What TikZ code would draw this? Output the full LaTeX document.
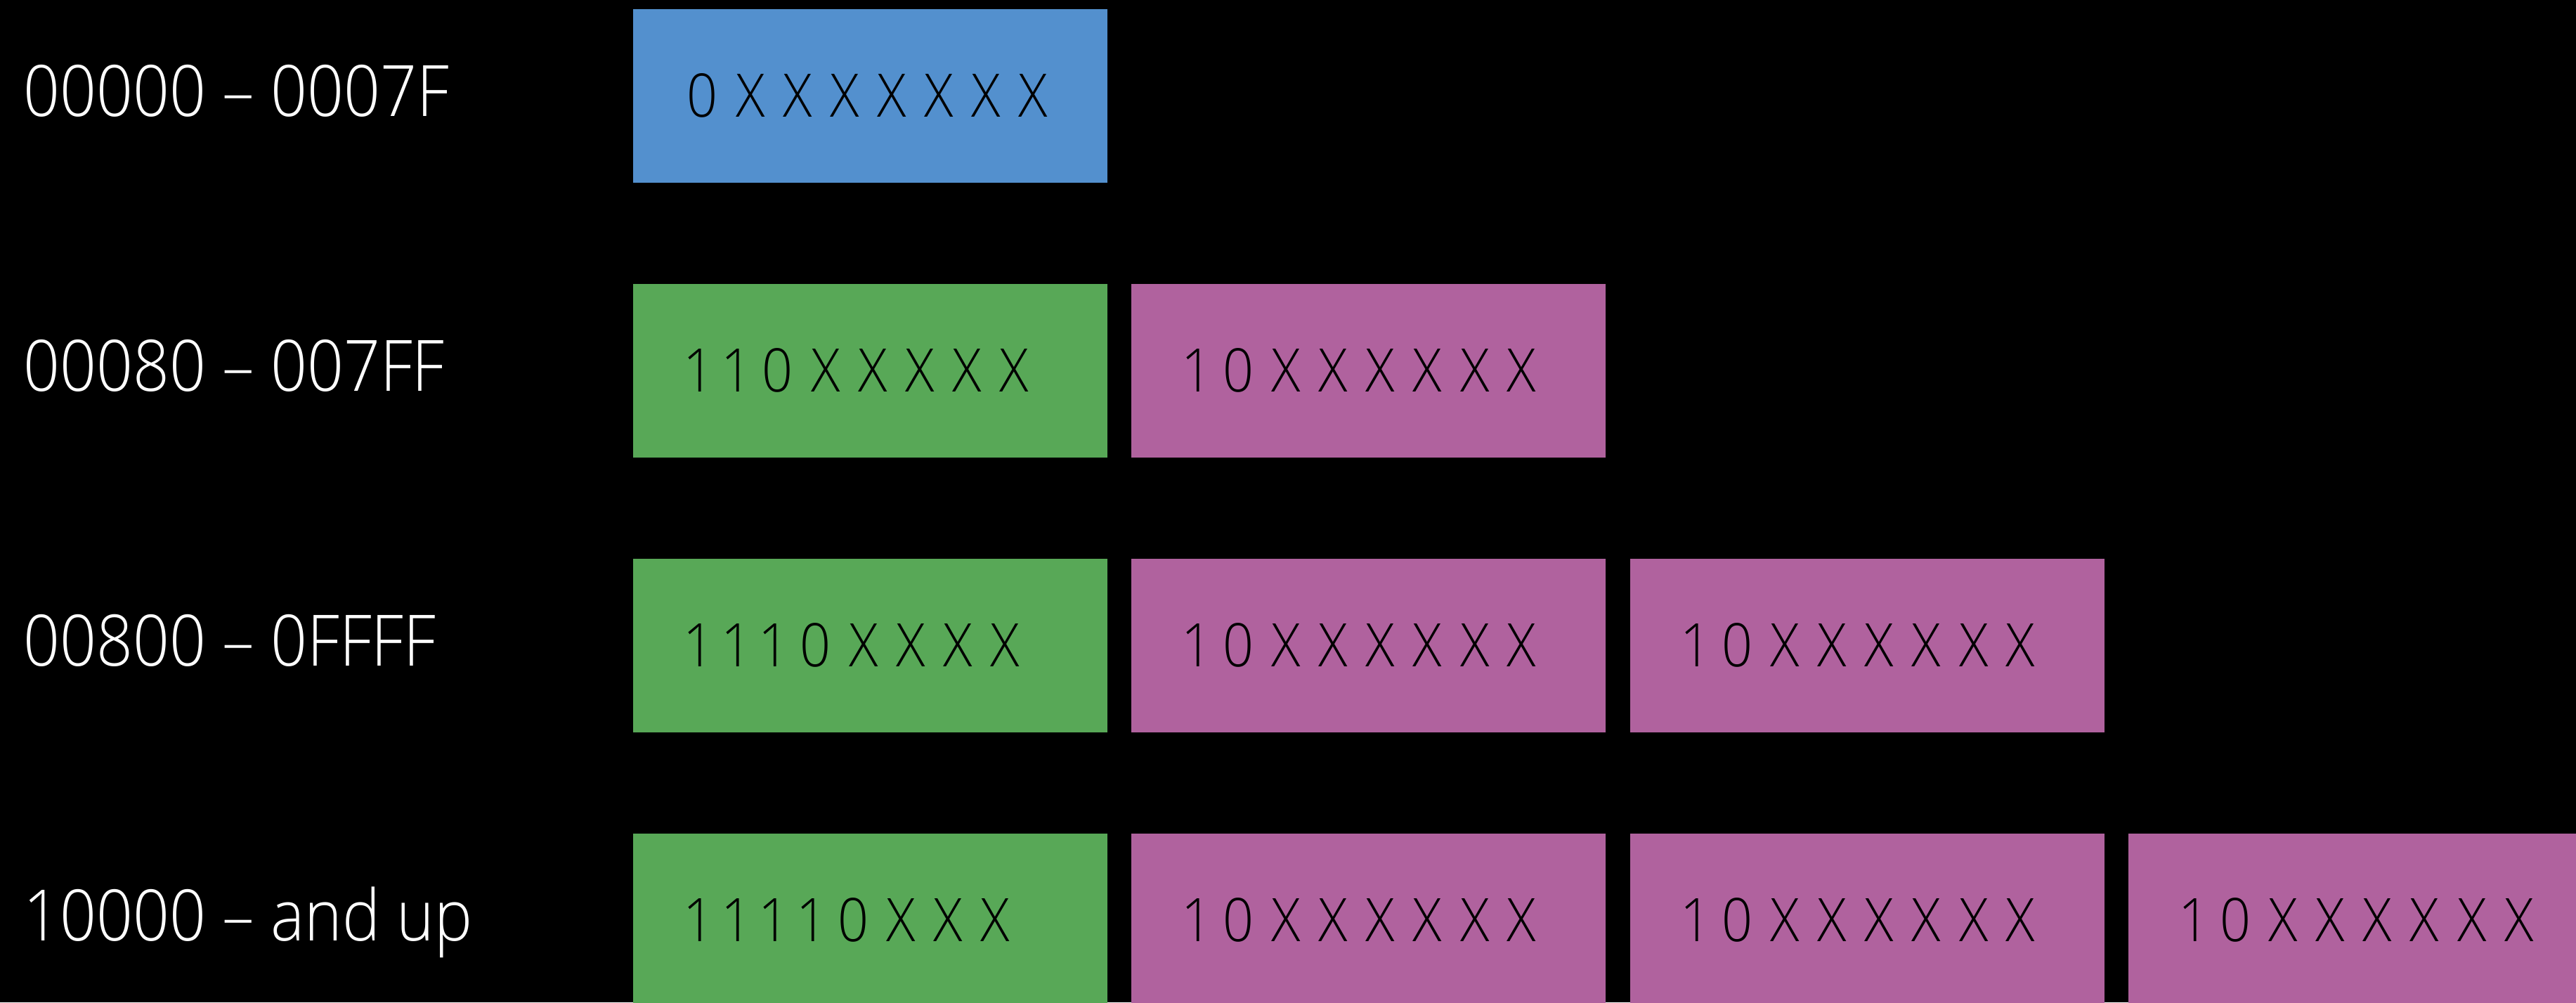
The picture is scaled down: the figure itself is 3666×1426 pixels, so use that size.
\documentclass[tikz,border=0pt]{standalone}
\usepackage{fontspec}
\setmainfont{Open Sans Light}[FakeStretch=0.9]
\newfontfamily\bitfont{Open Sans Light}[FakeStretch=0.9,LetterSpace=30,Numbers=Proportional]
\definecolor{blueB}{RGB}{83,144,206}
\definecolor{greenB}{RGB}{88,168,87}
\definecolor{pinkB}{RGB}{176,98,158}
\begin{document}
\begin{tikzpicture}[x=0.01cm,y=-0.01cm,
  cell/.style={rectangle, anchor=north west, minimum width=6.75cm, minimum height=2.47cm,
    inner xsep=0.77cm, inner ysep=0pt, text width=5.21cm, align=left,
    font=\bitfont\fontsize{24.3}{26}\selectfont, text=black},
  rng/.style={anchor=base west, inner sep=0pt, text=white, font=\fontsize{28.7}{30}\selectfont}]
\fill[black] (0,0) rectangle (3666,1426);
\useasboundingbox (0,0) rectangle (3666,1426);
\clip (0,0) rectangle (3666,1426);
% labels
\node[rng] (l1) at (33,165) {00000 – 0007F};
\node[rng] (l2) at (33,556) {00080 – 007FF};
\node[rng] (l3) at (33,947) {00800 – 0FFFF};
\node[rng] (l4) at (33,1338) {10000 – and up};
% row 1
\node[cell, fill=blueB] (a1) at (900,12) {0XXXXXXX};
% row 2
\node[cell, fill=greenB] (b1) at (900,403) {110XXXXX};
\node[cell, fill=pinkB] (b2) at (1609,403) {10XXXXXX};
% row 3
\node[cell, fill=greenB] (c1) at (900,794) {1110XXXX};
\node[cell, fill=pinkB] (c2) at (1609,794) {10XXXXXX};
\node[cell, fill=pinkB] (c3) at (2319,794) {10XXXXXX};
% row 4
\node[cell, fill=greenB] (d1) at (900,1185) {11110XXX};
\node[cell, fill=pinkB] (d2) at (1609,1185) {10XXXXXX};
\node[cell, fill=pinkB] (d3) at (2319,1185) {10XXXXXX};
\node[cell, fill=pinkB] (d4) at (3028,1185) {10XXXXXX};
\end{tikzpicture}
\end{document}
